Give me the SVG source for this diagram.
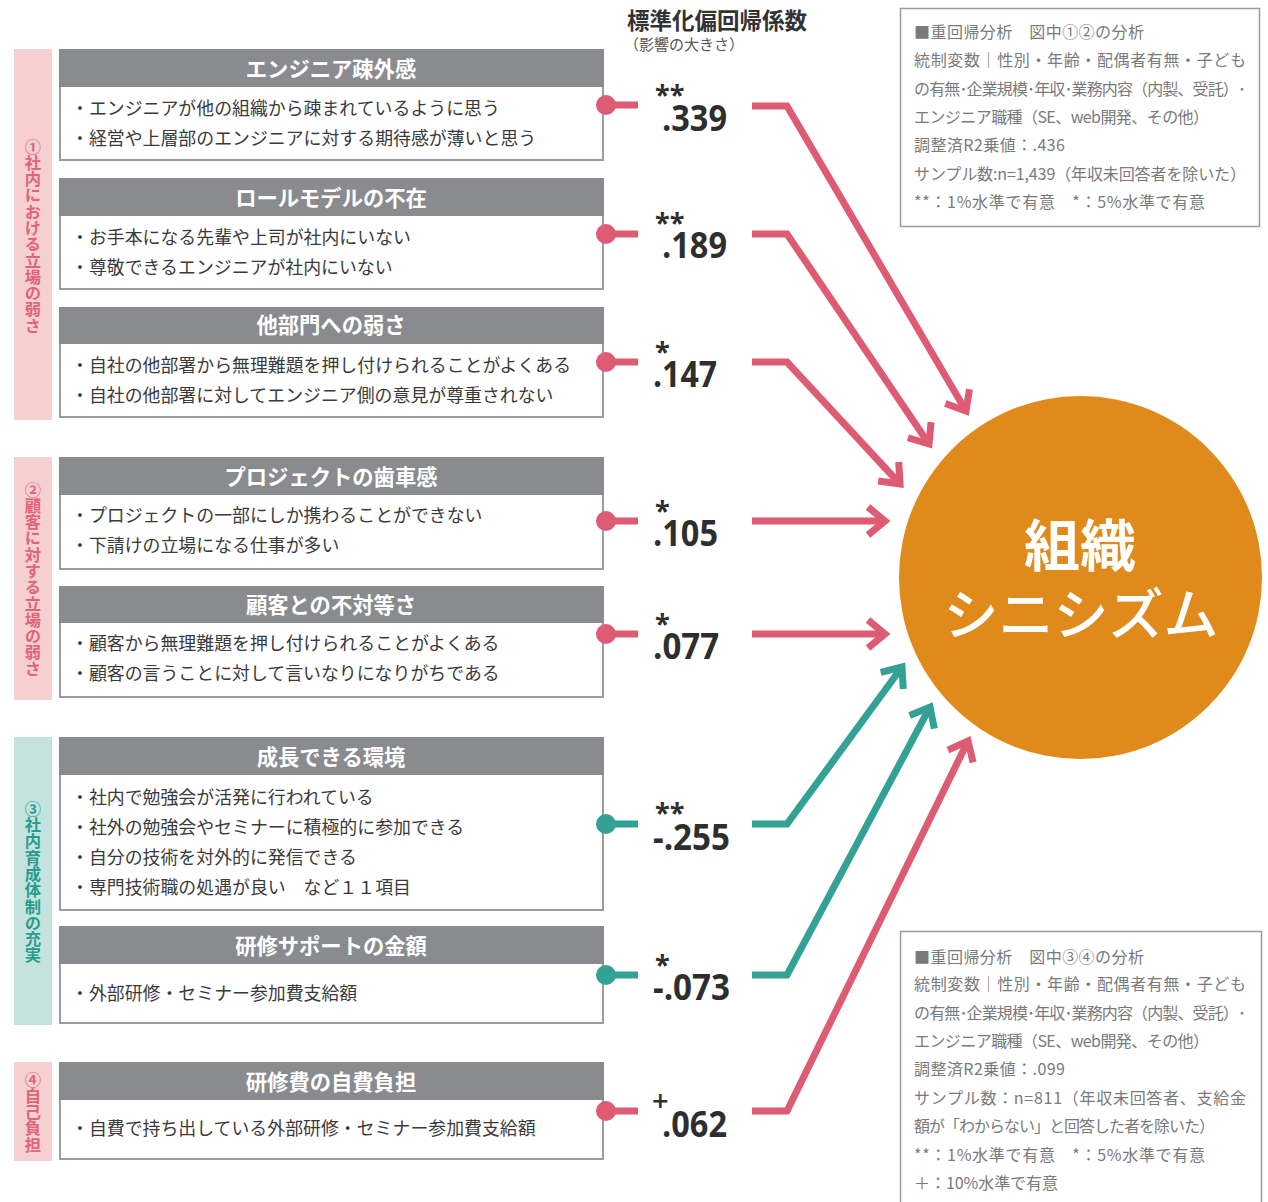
<svg xmlns="http://www.w3.org/2000/svg" width="1268" height="1202" viewBox="0 0 1268 1202">
<style>
.jp{font-family:"Noto Sans CJK JP","Noto Sans",sans-serif}
.band-p{fill:#f6cfd0}
.band-t{fill:#c4e3de}
.btxt{font-family:"Noto Sans CJK JP",sans-serif;font-size:16.3px;font-weight:700;writing-mode:vertical-rl;text-anchor:middle}
.hdr{fill:#898b8f}
.body{fill:#fff;stroke:#9b9c9e;stroke-width:2}
.htxt{font-family:"Noto Sans CJK JP",sans-serif;font-size:21.3px;font-weight:700;fill:#fff;text-anchor:middle}
.itxt{font-family:"Noto Sans CJK JP",sans-serif;font-size:17.9px;fill:#3a3a3a}
.coef{font-family:"Open Sans","Liberation Sans",sans-serif;font-weight:700;fill:#2e2e2e}
.num{font-size:35px}
.ast{font-size:27px}
.pls{font-size:29px;font-weight:600}
.pl{fill:none;stroke:#dd5b73;stroke-width:7}
.tl{fill:none;stroke:#33a193;stroke-width:7}
.note{fill:#fff;stroke:#9b9b9b;stroke-width:1.5}
.ntxt{font-family:"Noto Sans CJK JP",sans-serif;font-size:16px;fill:#7a7a7a}
</style>
<defs>
<marker id="ahp" markerUnits="userSpaceOnUse" orient="auto" refX="0" refY="0" markerWidth="40" markerHeight="40" overflow="visible">
<path d="M-17,-14 L0,0 L-17,14" fill="none" stroke="#dd5b73" stroke-width="7"/>
</marker>
<marker id="aht" markerUnits="userSpaceOnUse" orient="auto" refX="0" refY="0" markerWidth="40" markerHeight="40" overflow="visible">
<path d="M-17,-14 L0,0 L-17,14" fill="none" stroke="#33a193" stroke-width="7"/>
</marker>
</defs>
<rect width="1268" height="1202" fill="#fff"/>

<g id="band1"><rect class="band-p" x="14" y="49" width="38" height="371"/><text class="btxt" x="33" y="236" fill="#e0637b">①社内における立場の弱さ</text></g>
<g id="band2"><rect class="band-p" x="14" y="457" width="38" height="243"/><text class="btxt" x="33" y="579" fill="#e0637b">②顧客に対する立場の弱さ</text></g>
<g id="band3"><rect class="band-t" x="14" y="737" width="38" height="288"/><text class="btxt" x="33" y="882" fill="#2a9c8c">③社内育成体制の充実</text></g>
<g id="band4"><rect class="band-p" x="14" y="1062" width="38" height="99"/><text class="btxt" x="33" y="1112" fill="#e0637b">④自己負担</text></g>

<g id="title" class="jp">
<text x="627" y="29" font-size="22.5" font-weight="700" fill="#333">標準化偏回帰係数</text>
<text x="624" y="50" font-size="15" fill="#555">（影響の大きさ）</text>
</g>

<g id="box1"><rect class="body" x="60" y="85" width="543" height="75"/><rect class="hdr" x="59" y="49" width="545" height="38"/>
<text class="htxt" x="331" y="77">エンジニア疎外感</text>
<text class="itxt" x="71" y="115">・エンジニアが他の組織から疎まれているように思う</text>
<text class="itxt" x="71" y="145">・経営や上層部のエンジニアに対する期待感が薄いと思う</text></g>

<g id="box2"><rect class="body" x="60" y="214" width="543" height="75"/><rect class="hdr" x="59" y="178" width="545" height="38"/>
<text class="htxt" x="331" y="206">ロールモデルの不在</text>
<text class="itxt" x="71" y="244">・お手本になる先輩や上司が社内にいない</text>
<text class="itxt" x="71" y="274">・尊敬できるエンジニアが社内にいない</text></g>

<g id="box3"><rect class="body" x="60" y="342" width="543" height="75"/><rect class="hdr" x="59" y="307" width="545" height="37"/>
<text class="htxt" x="331" y="333">他部門への弱さ</text>
<text class="itxt" x="71" y="372">・自社の他部署から無理難題を押し付けられることがよくある</text>
<text class="itxt" x="71" y="402">・自社の他部署に対してエンジニア側の意見が尊重されない</text></g>

<g id="box4"><rect class="body" x="60" y="493" width="543" height="76"/><rect class="hdr" x="59" y="457" width="545" height="38"/>
<text class="htxt" x="331" y="485">プロジェクトの歯車感</text>
<text class="itxt" x="71" y="522">・プロジェクトの一部にしか携わることができない</text>
<text class="itxt" x="71" y="552">・下請けの立場になる仕事が多い</text></g>

<g id="box5"><rect class="body" x="60" y="621" width="543" height="76"/><rect class="hdr" x="59" y="586" width="545" height="37"/>
<text class="htxt" x="331" y="613">顧客との不対等さ</text>
<text class="itxt" x="71" y="650">・顧客から無理難題を押し付けられることがよくある</text>
<text class="itxt" x="71" y="680">・顧客の言うことに対して言いなりになりがちである</text></g>

<g id="box6"><rect class="body" x="60" y="773" width="543" height="137"/><rect class="hdr" x="59" y="737" width="545" height="38"/>
<text class="htxt" x="331" y="765">成長できる環境</text>
<text class="itxt" x="71" y="804">・社内で勉強会が活発に行われている</text>
<text class="itxt" x="71" y="834">・社外の勉強会やセミナーに積極的に参加できる</text>
<text class="itxt" x="71" y="864">・自分の技術を対外的に発信できる</text>
<text class="itxt" x="71" y="894">・専門技術職の処遇が良い　など１１項目</text></g>

<g id="box7"><rect class="body" x="60" y="962" width="543" height="61"/><rect class="hdr" x="59" y="926" width="545" height="38"/>
<text class="htxt" x="331" y="954">研修サポートの金額</text>
<text class="itxt" x="71" y="1000">・外部研修・セミナー参加費支給額</text></g>

<g id="box8"><rect class="body" x="60" y="1098" width="543" height="61"/><rect class="hdr" x="59" y="1062" width="545" height="38"/>
<text class="htxt" x="331" y="1090">研修費の自費負担</text>
<text class="itxt" x="71" y="1135">・自費で持ち出している外部研修・セミナー参加費支給額</text></g>

<g id="coefs">
<text class="coef"><tspan class="ast" x="655" y="104">**</tspan><tspan class="num" x="662" y="131" textLength="65" lengthAdjust="spacingAndGlyphs">.339</tspan></text>
<text class="coef"><tspan class="ast" x="655" y="232">**</tspan><tspan class="num" x="662" y="258" textLength="65" lengthAdjust="spacingAndGlyphs">.189</tspan></text>
<text class="coef"><tspan class="ast" x="655" y="361">*</tspan><tspan class="num" x="653" y="387" textLength="64" lengthAdjust="spacingAndGlyphs">.147</tspan></text>
<text class="coef"><tspan class="ast" x="655" y="520">*</tspan><tspan class="num" x="653" y="546" textLength="65" lengthAdjust="spacingAndGlyphs">.105</tspan></text>
<text class="coef"><tspan class="ast" x="655" y="633">*</tspan><tspan class="num" x="653" y="659" textLength="66" lengthAdjust="spacingAndGlyphs">.077</tspan></text>
<text class="coef"><tspan class="ast" x="655" y="822">**</tspan><tspan class="num" x="653" y="850" textLength="77" lengthAdjust="spacingAndGlyphs">-.255</tspan></text>
<text class="coef"><tspan class="ast" x="655" y="974">*</tspan><tspan class="num" x="653" y="1000" textLength="77" lengthAdjust="spacingAndGlyphs">-.073</tspan></text>
<text class="coef"><tspan class="pls" x="652" y="1111">+</tspan><tspan class="num" x="662" y="1137" textLength="65" lengthAdjust="spacingAndGlyphs">.062</tspan></text>
</g>

<g id="connectors">
<g fill="#dd5b73">
<circle cx="606" cy="105" r="10"/><circle cx="606" cy="234" r="10"/><circle cx="606" cy="362" r="10"/>
<circle cx="606" cy="521" r="10"/><circle cx="606" cy="634" r="10"/><circle cx="606" cy="1111" r="10"/>
</g>
<g fill="#33a193"><circle cx="606" cy="824" r="10"/><circle cx="606" cy="975" r="10"/></g>
<path class="pl" d="M606,105 H638 M606,234 H638 M606,362 H638 M606,521 H638 M606,634 H638 M606,1111 H638"/>
<path class="tl" d="M606,824 H638 M606,975 H638"/>
<path class="pl" d="M752,106 H787 L966,411" marker-end="url(#ahp)"/>
<path class="pl" d="M752,234 H787 L929,444" marker-end="url(#ahp)"/>
<path class="pl" d="M752,362 H787 L900,484" marker-end="url(#ahp)"/>
<path class="pl" d="M752,521 H885" marker-end="url(#ahp)"/>
<path class="pl" d="M752,634 H885" marker-end="url(#ahp)"/>
<path class="tl" d="M752,824 H787 L902,667" marker-end="url(#aht)"/>
<path class="tl" d="M752,975 H787 L930,707" marker-end="url(#aht)"/>
<path class="pl" d="M752,1111 H787 L968,741" marker-end="url(#ahp)"/>
</g>

<g id="target">
<circle cx="1080.5" cy="577.5" r="181.5" fill="#df8a1b"/>
<text class="jp" x="1080" y="566" font-size="56" font-weight="700" fill="#fff" text-anchor="middle">組織</text>
<text class="jp" x="1081" y="634" font-size="55" font-weight="500" fill="#fff" text-anchor="middle">シニシズム</text>
</g>

<g id="note1">
<rect class="note" x="900.5" y="8.5" width="359" height="218"/>
<text class="ntxt" x="914" y="38" textLength="230">■重回帰分析　図中①②の分析</text>
<text class="ntxt" x="914" y="66" textLength="332">統制変数｜性別・年齢・配偶者有無・子ども</text>
<text class="ntxt" x="914" y="95" textLength="332">の有無･企業規模･年収･業務内容（内製、受託）･</text>
<text class="ntxt" x="914" y="123" textLength="295">エンジニア職種（SE、web開発、その他）</text>
<text class="ntxt" x="914" y="151" textLength="151">調整済R2乗値：.436</text>
<text class="ntxt" x="914" y="180" textLength="332">サンプル数:n=1,439（年収未回答者を除いた）</text>
<text class="ntxt" x="914" y="208" textLength="291">**：1%水準で有意　*：5%水準で有意</text>
</g>

<g id="note2">
<rect class="note" x="900.5" y="931.5" width="361" height="280"/>
<text class="ntxt" x="914" y="963" textLength="230">■重回帰分析　図中③④の分析</text>
<text class="ntxt" x="914" y="990" textLength="332">統制変数｜性別・年齢・配偶者有無・子ども</text>
<text class="ntxt" x="914" y="1019" textLength="332">の有無･企業規模･年収･業務内容（内製、受託）･</text>
<text class="ntxt" x="914" y="1047" textLength="295">エンジニア職種（SE、web開発、その他）</text>
<text class="ntxt" x="914" y="1075" textLength="151">調整済R2乗値：.099</text>
<text class="ntxt" x="914" y="1104" textLength="332">サンプル数：n=811（年収未回答者、支給金</text>
<text class="ntxt" x="914" y="1132" textLength="301">額が「わからない」と回答した者を除いた）</text>
<text class="ntxt" x="914" y="1161" textLength="291">**：1%水準で有意　*：5%水準で有意</text>
<text class="ntxt" x="914" y="1189" textLength="144">＋：10%水準で有意</text>
</g>
</svg>
